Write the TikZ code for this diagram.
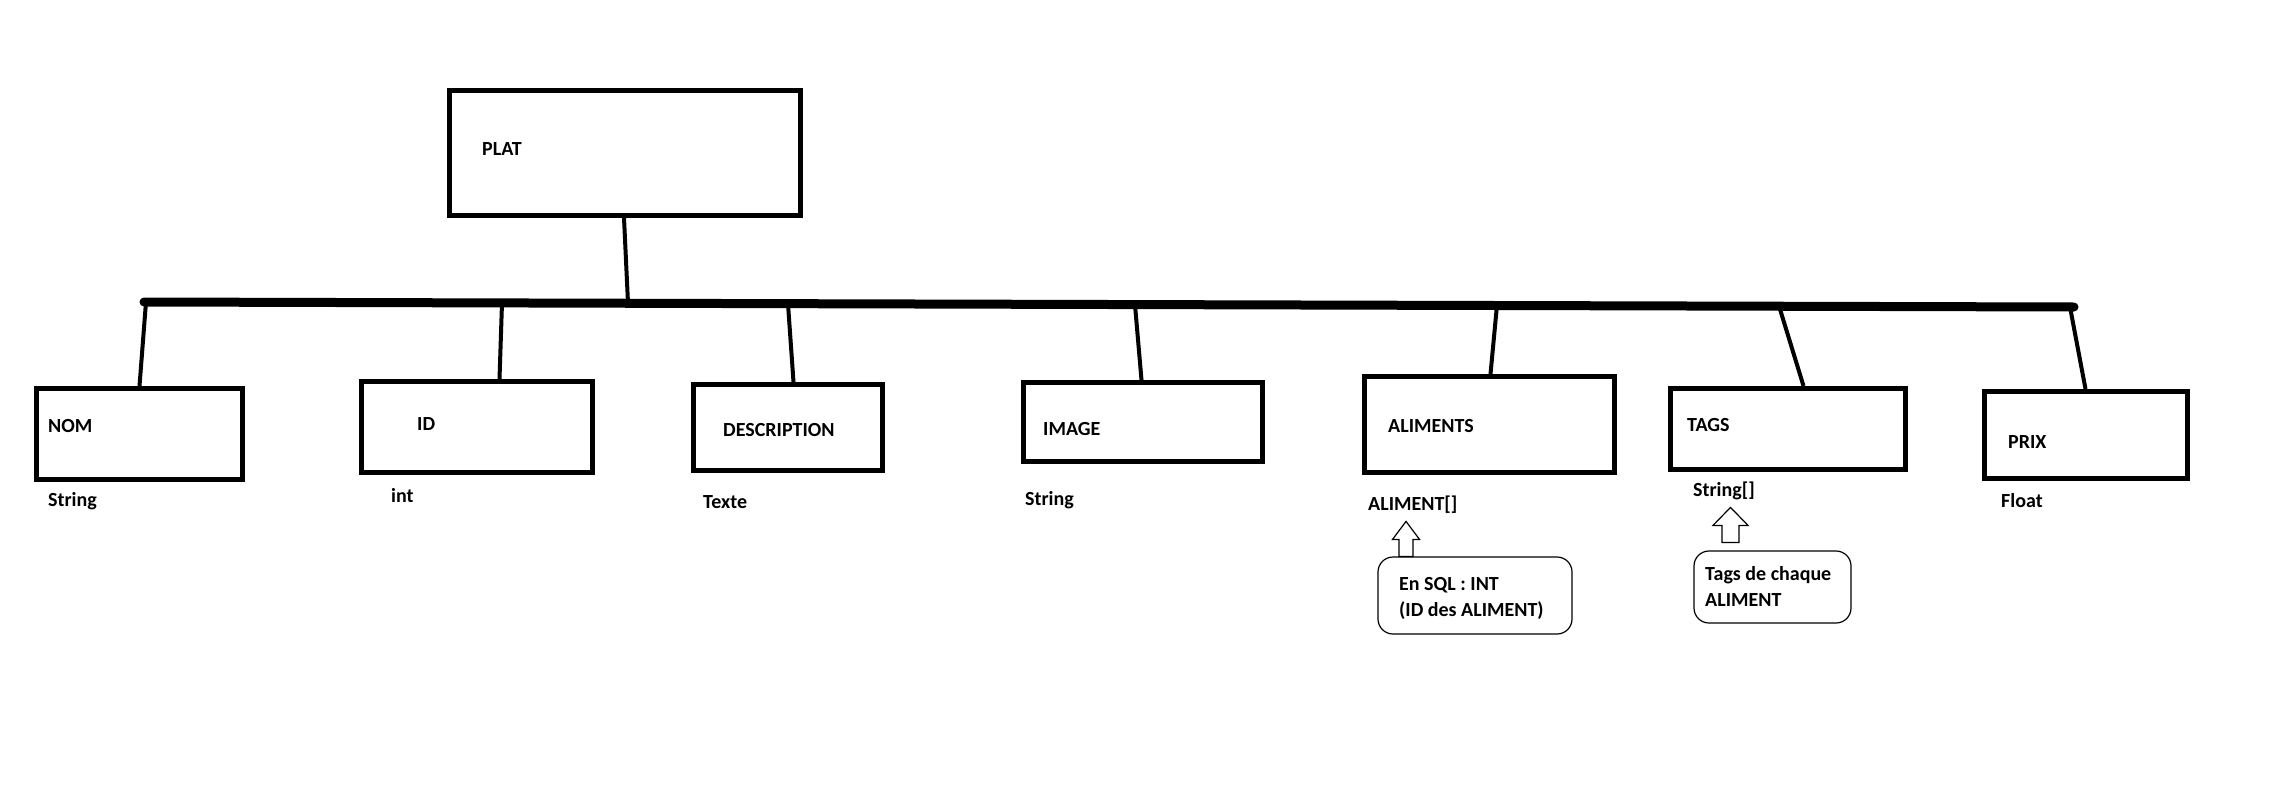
\documentclass[tikz,border=0pt]{standalone}
\usepackage{fontspec}
\setmainfont{Carlito}
\usetikzlibrary{positioning}
% hollow up arrow: bottom point, half shaft, half head
\newcommand*{\hollowup}[3]{\draw[thinline] #1 ++(-#2,0) -- ++(0,-17) -- ++(#2-#3,0) -- ++(#3,-18) -- ++(#3,18) -- ++(#2-#3,0) -- ++(0,17) -- cycle;}

\begin{document}
\begin{tikzpicture}[x=1pt, y=-1pt, font=\fontsize{20}{26}\selectfont\bfseries]
    \tikzstyle{box}=[draw=black, line width=5pt, inner sep=0pt]
    \tikzstyle{note}=[draw=black, line width=1.2pt, rounded corners=15pt, inner sep=0pt]
    \tikzstyle{txt}=[anchor=base west, inner sep=0pt, align=left]
    \tikzstyle{link}=[line width=4pt]
    \tikzstyle{bus}=[line width=9pt, line cap=round]
    \tikzstyle{thinline}=[line width=1.2pt]
    \useasboundingbox (0,0) rectangle (2296,808);
    % boxes
    \node[box, minimum width=351pt, minimum height=125pt] (A) at (625,153)    {};
    \node[box, minimum width=206pt, minimum height=91pt]  (B) at (139.5,434)  {};
    \node[box, minimum width=231pt, minimum height=91pt]  (C) at (477,427)    {};
    \node[box, minimum width=189pt, minimum height=86pt]  (D) at (788,427.5)  {};
    \node[box, minimum width=239pt, minimum height=79pt]  (E) at (1143,422)   {};
    \node[box, minimum width=250pt, minimum height=96pt]  (F) at (1489.5,424.5) {};
    \node[box, minimum width=235pt, minimum height=81pt]  (G) at (1788,429)   {};
    \node[box, minimum width=203pt, minimum height=87pt]  (H) at (2086,435)   {};
    \node[txt] (At) at (482,155)  {PLAT};
    \node[txt] (Bt) at (48,432)   {NOM};
    \node[txt] (Ct) at (417,430)  {ID};
    \node[txt] (Dt) at (723,436)  {DESCRIPTION};
    \node[txt] (Et) at (1043,435) {IMAGE};
    \node[txt] (Ft) at (1388,432) {ALIMENTS};
    \node[txt] (Gt) at (1687,431) {TAGS};
    \node[txt] (Ht) at (2008,448) {PRIX};
    % types
    \node[txt] (Bs) at (48,506)   {String};
    \node[txt] (Cs) at (391,502)  {int};
    \node[txt] (Ds) at (703,508)  {Texte};
    \node[txt] (Es) at (1025,505) {String};
    \node[txt] (Fs) at (1368,510) {ALIMENT[]};
    \node[txt] (Gs) at (1693,496) {String[]};
    \node[txt] (Hs) at (2001,507) {Float};
    % notes
    \node[note, minimum width=194pt, minimum height=77pt] (I) at (1475,595.5) {};
    \node[note, minimum width=157pt, minimum height=72pt] (J) at (1772.5,587) {};
    \node[txt] (It) at (1399,616) {En SQL : INT\\(ID des ALIMENT)};
    \node[txt] (Jt) at (1705,606) {Tags de chaque\\ALIMENT};
    \hollowup{([xshift=-69pt]I.north)}{7}{13.5}
    \hollowup{([xshift=-42pt, yshift=8pt]J.north)}{8.5}{17.5}
    % bus
    \coordinate (L) at (144,302);
    \coordinate (R) at (2074,307);
    \coordinate (a) at (628,303);
    \coordinate (b) at (146,302);
    \coordinate (c) at (502,303);
    \coordinate (d) at (788,304);
    \coordinate (e) at (1135,305);
    \coordinate (f) at (1497,305);
    \coordinate (g) at (1779,306);
    \coordinate (h) at (2070,307);
    \draw[bus] (L) -- (R);
    \draw[link] ([xshift=-1pt]A.south) -- (a);
    \draw[link] (b) -- ([xshift=105.5pt]B.north west);
    \draw[link] (c) -- ([xshift=140.5pt]C.north west);
    \draw[link] (d) -- ([xshift=102.5pt]D.north west);
    \draw[link] (e) -- ([xshift=120.5pt]E.north west);
    \draw[link] (f) -- ([xshift=128.5pt]F.north west);
    \draw[link] (g) -- ([xshift=135.5pt]G.north west);
    \draw[link] (h) -- ([xshift=103.5pt]H.north west);
\end{tikzpicture}
\end{document}
